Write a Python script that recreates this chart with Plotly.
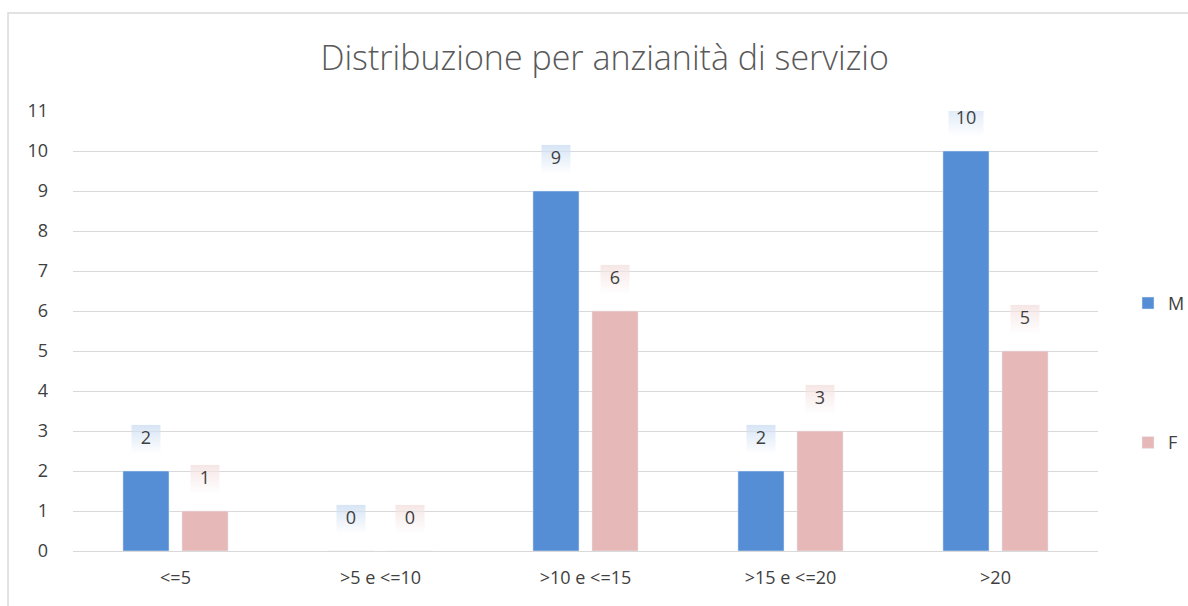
import plotly.graph_objects as go

categories = ['<=5', '>5 e <=10', '>10 e <=15', '>15 e <=20', '>20']
maschi = [2, 0, 9, 2, 10]
femmine = [1, 0, 6, 3, 5]

col_m = '#558ED5'
col_f = '#E6B9B8'
lab_m = '#C6D9F1'
lab_f = '#F2DCDB'
grey_txt = '#595959'
dark_txt = '#404040'
font = 'Open Sans'

label_lift = 0.79  # label box sits a bit above the bar top

fig = go.Figure()

fig.add_trace(go.Bar(x=categories, y=maschi, name='M', marker_color=col_m,
                     offsetgroup='M', legendgroup='M'))
fig.add_trace(go.Bar(x=categories, y=femmine, name='F', marker_color=col_f,
                     offsetgroup='F', legendgroup='F'))

# data labels with a soft gradient box, as in the Excel chart
for vals, col, grp in [(maschi, lab_m, 'M'), (femmine, lab_f, 'F')]:
    fig.add_trace(go.Scatter(
        x=categories, y=[v + label_lift for v in vals],
        mode='markers+text', text=[str(v) for v in vals],
        textposition='middle center',
        textfont=dict(family=font, size=18, color=dark_txt),
        marker=dict(symbol='square', size=[35 if v >= 10 else 29 for v in vals],
                    color=col, gradient=dict(type='vertical', color='white'),
                    line=dict(width=0)),
        offsetgroup=grp, showlegend=False, hoverinfo='skip'))

fig.update_layout(
    width=1188, height=606,
    plot_bgcolor='white', paper_bgcolor='white',
    barmode='group', bargap=0.424, bargroupgap=0.22,
    scattermode='group', scattergap=0.424,
    margin=dict(l=73, r=90, t=111, b=55),
    title=dict(text='Distribuzione per anzianità di servizio', x=0.509, xanchor='center',
               y=0.904, yanchor='middle',
               font=dict(family=font, size=34, color=grey_txt, weight=300)),
    font=dict(family=font, size=18, color=dark_txt),
    legend=dict(xref='container', yref='container', x=0.9495, y=0.530,
                xanchor='left', yanchor='top',
                tracegroupgap=113, font=dict(size=18, color=dark_txt),
                itemwidth=30, bgcolor='rgba(0,0,0,0)'),
    showlegend=True,
    shapes=[dict(type='rect', xref='paper', yref='paper',
                 x0=-0.0634, x1=1.2, y0=-0.2, y1=1.2227,
                 line=dict(color='#D9D9D9', width=1.5), layer='below')],
)

fig.update_yaxes(range=[0, 11], dtick=1, showgrid=True, gridcolor='#D9D9D9', gridwidth=1.3,
                 zeroline=True, zerolinecolor='#D9D9D9', zerolinewidth=1.3,
                 ticks='', ticklabelstandoff=24, tickfont=dict(size=18, color=dark_txt),
                 fixedrange=True)
fig.update_xaxes(showgrid=False, showline=True, linecolor='#D9D9D9', linewidth=1.3,
                 ticks='', tickfont=dict(size=18, color=dark_txt), ticklabelstandoff=10)

# drop the default body margin so the 1188x606 figure fills the window exactly
fig.write_html('out.html', config={'displayModeBar': False},
               post_script="document.body.style.margin='0';document.body.style.overflow='hidden';")
